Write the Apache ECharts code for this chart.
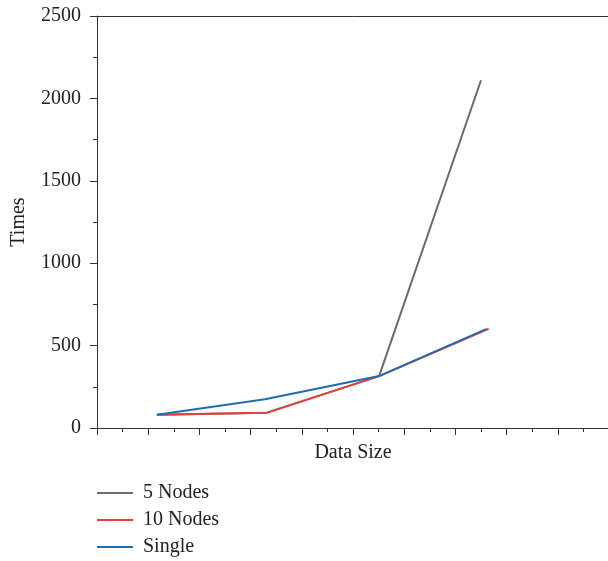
<!DOCTYPE html>
<html>
<head>
<meta charset="utf-8">
<script src="https://cdn.jsdelivr.net/npm/echarts@6/dist/echarts.min.js"></script>
<style>html,body{margin:0;padding:0;background:#fff;}#c{width:608px;height:561px;}</style>
</head>
<body>
<div id="c"></div>
<script>
const seriesNames = ['5 Nodes', '10 Nodes', 'Single'];
const nodes5 = [[1.17, 80], [3.32, 93], [5.51, 315], [7.5, 2110]];
const nodes10 = [[1.17, 80], [3.32, 93], [5.51, 315], [7.65, 602]];
const single = [[1.17, 80], [3.28, 174], [5.51, 315], [7.6, 600]];
const yTicks = [0, 500, 1000, 1500, 2000, 2500];
const colors = ['#6b6b6b', '#e8413a', '#1f6cb6'];

const font = 'Liberation Serif';
const fs = 20;
const chart = echarts.init(document.getElementById('c'));
const axisLineStyle = { color: '#333', width: 1 };
chart.setOption({
  animation: false,
  grid: { left: 97, top: 16, width: 512, bottom: 133, containLabel: false, outerBoundsMode: 'none' },
  legend: {
    orient: 'vertical', left: 97, top: 483, itemGap: 7, itemWidth: 36, itemHeight: 2,
    padding: 0, icon: 'rect',
    data: seriesNames,
    textStyle: { fontFamily: font, fontSize: fs, color: '#222', lineHeight: 20, padding: [0, 0, 0, 5] }
  },
  xAxis: [{
    type: 'value', min: 0, max: 10, interval: 1,
    name: 'Data Size', nameLocation: 'middle', nameGap: 15,
    nameTextStyle: { fontFamily: font, fontSize: fs, color: '#222' },
    axisLine: { lineStyle: axisLineStyle },
    axisTick: { show: true, length: 7, lineStyle: axisLineStyle },
    minorTick: { show: true, splitNumber: 2, length: 4, lineStyle: axisLineStyle },
    axisLabel: { show: false },
    splitLine: { show: false }
  }, {
    type: 'value', position: 'top', min: 0, max: 10,
    axisLine: { show: true, onZero: false, lineStyle: axisLineStyle },
    axisTick: { show: false }, axisLabel: { show: false }, splitLine: { show: false }
  }],
  yAxis: {
    type: 'value', min: yTicks[0], max: yTicks[yTicks.length - 1], interval: 500,
    name: 'Times', nameLocation: 'middle', nameGap: 68,
    nameTextStyle: { fontFamily: font, fontSize: fs, color: '#222' },
    axisLine: { show: true, lineStyle: axisLineStyle },
    axisTick: { show: true, length: 7, lineStyle: axisLineStyle },
    minorTick: { show: true, splitNumber: 2, length: 4, lineStyle: axisLineStyle },
    axisLabel: { fontFamily: font, fontSize: fs, color: '#222', margin: 16, formatter: v => String(v) },
    splitLine: { show: false }
  },
  series: [
    { name: seriesNames[0], type: 'line', data: nodes5, symbol: 'none', color: colors[0], lineStyle: { width: 2, color: colors[0] } },
    { name: seriesNames[1], type: 'line', data: nodes10, symbol: 'none', color: colors[1], lineStyle: { width: 2, color: colors[1] } },
    { name: seriesNames[2], type: 'line', data: single, symbol: 'none', color: colors[2], lineStyle: { width: 2, color: colors[2] } }
  ]
});
</script>
</body>
</html>
